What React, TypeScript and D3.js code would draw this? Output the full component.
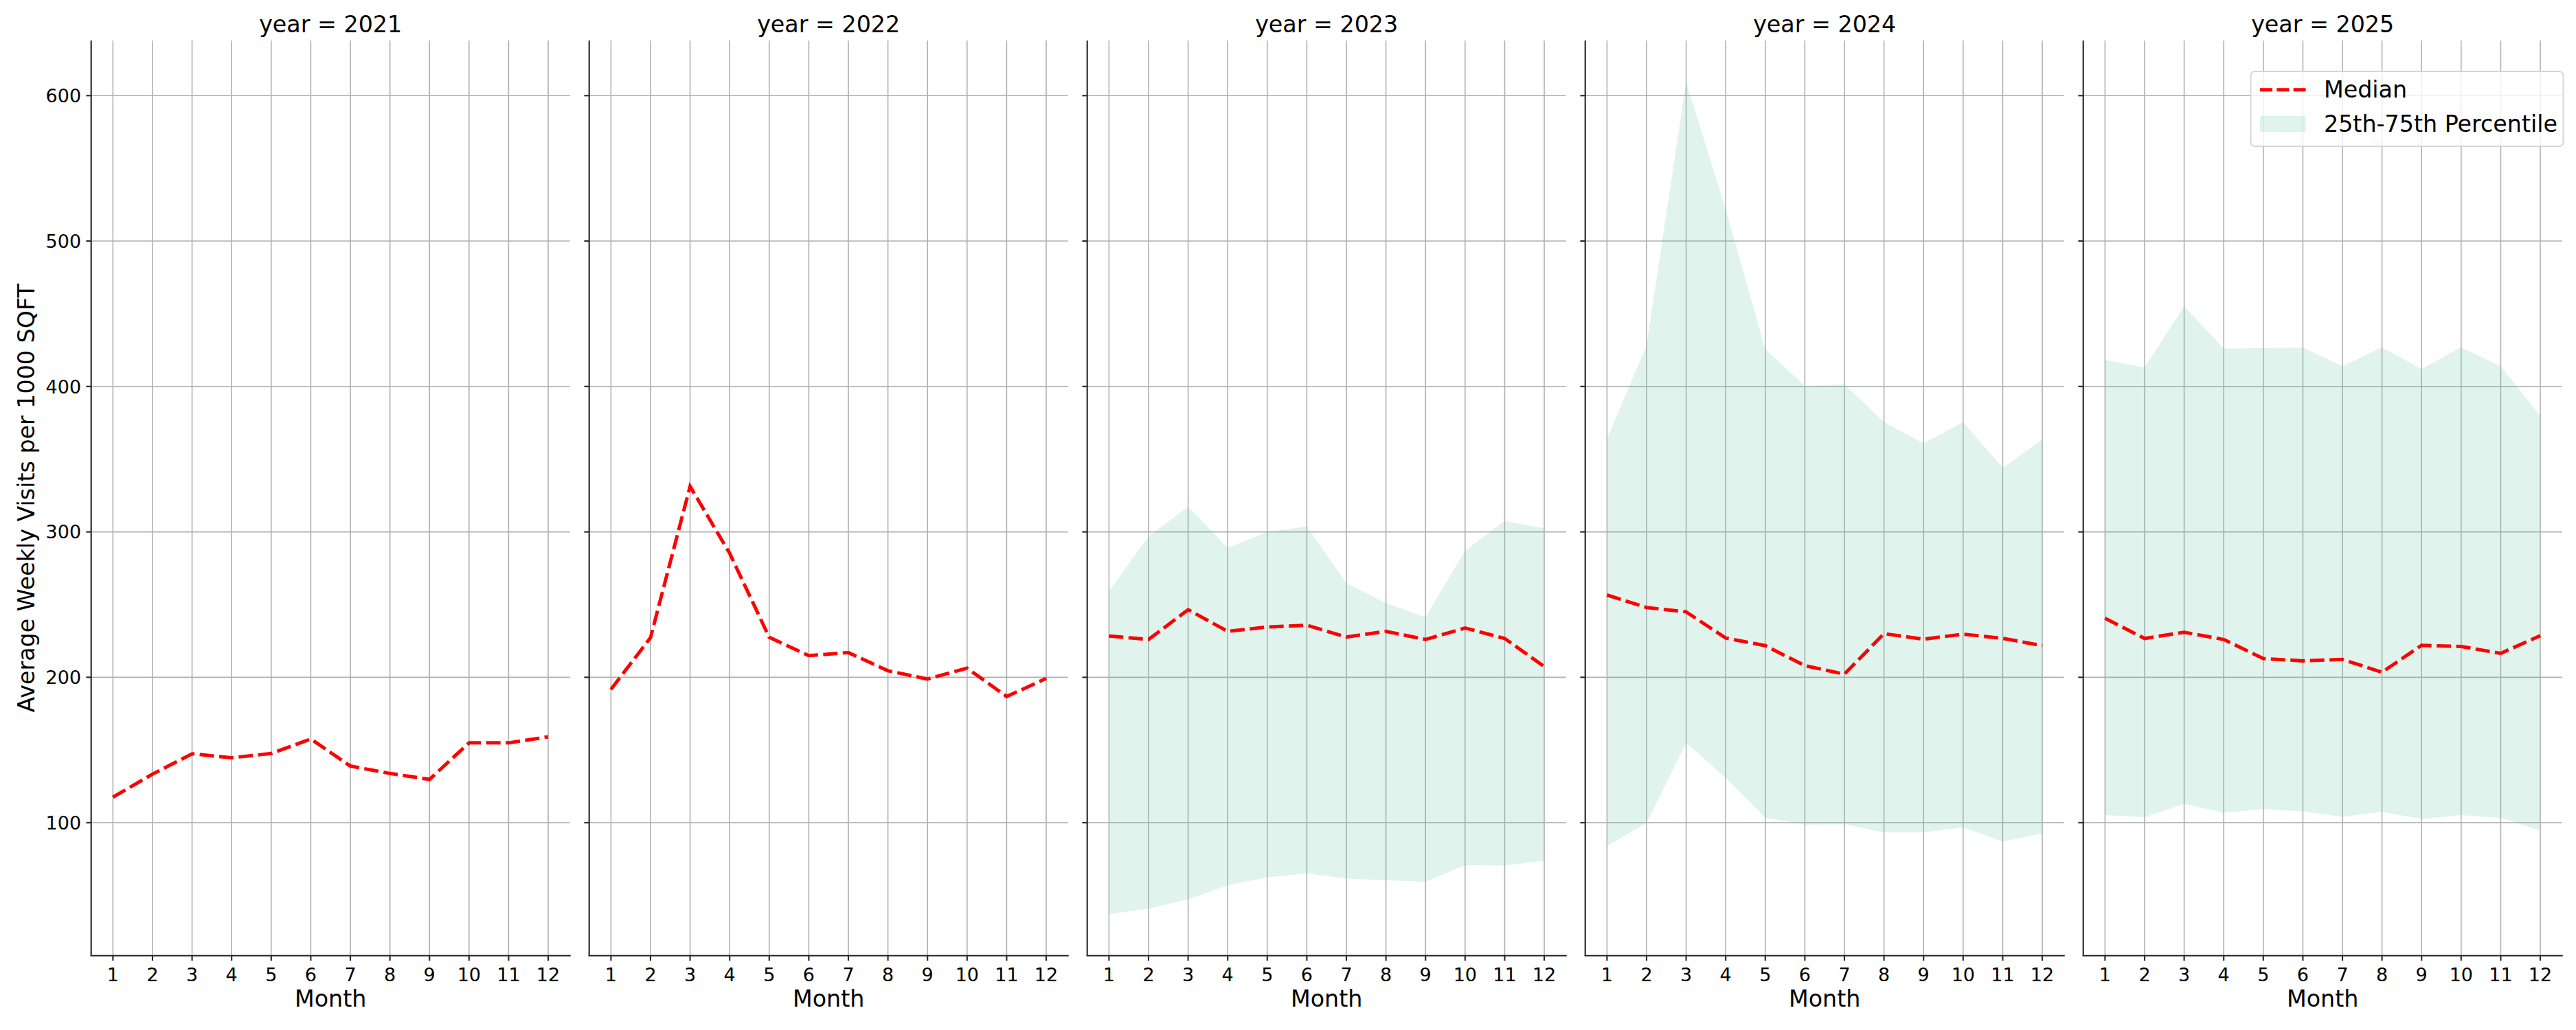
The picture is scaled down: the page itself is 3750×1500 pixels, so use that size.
import React from "react";
import * as d3 from "d3";

// Facet columns and x categories
const years = [2021, 2022, 2023, 2024, 2025];
const months = [1, 2, 3, 4, 5, 6, 7, 8, 9, 10, 11, 12];
const yTicks = [100, 200, 300, 400, 500, 600];

// Median weekly visits per 1000 sqft, one array per year
const median2021 = [117.6, 133.4, 147.4, 144.7, 147.6, 157.6, 139.0, 133.9, 129.8, 154.9, 154.9, 159.1];
const median2022 = [191.7, 227.3, 331.3, 285.3, 227.5, 214.9, 217.0, 204.5, 198.8, 206.3, 186.8, 199.2];
const median2023 = [228.4, 226.0, 246.5, 231.6, 234.6, 235.8, 227.7, 231.6, 226.0, 233.9, 226.7, 207.4];
const median2024 = [256.6, 248.0, 245.0, 227.0, 221.8, 208.0, 202.2, 230.0, 226.2, 229.7, 226.8, 221.8];
const median2025 = [240.6, 226.7, 231.0, 226.0, 212.9, 211.3, 212.3, 203.5, 222.0, 221.2, 216.5, 228.6];

// 25th / 75th percentile band (not available for 2021 and 2022)
const p25_2023 = [37.2, 40.9, 47.3, 57.0, 62.4, 65.1, 61.7, 60.4, 59.4, 70.8, 70.5, 74.0];
const p75_2023 = [259.2, 296.8, 317.3, 288.9, 300.0, 303.7, 264.6, 251.0, 241.4, 287.1, 307.4, 302.5];
const p25_2024 = [84.0, 100.0, 155.0, 130.9, 103.5, 98.6, 99.0, 93.3, 93.3, 96.7, 86.9, 92.8];
const p75_2024 = [363.9, 428.3, 609.3, 521.9, 425.5, 400.4, 401.5, 375.5, 360.8, 375.5, 343.9, 363.5];
const p25_2025 = [105.3, 103.8, 113.0, 106.9, 109.3, 107.7, 104.1, 107.5, 102.5, 105.3, 103.3, 94.7];
const p75_2025 = [418.2, 413.1, 455.2, 426.1, 426.4, 426.7, 414.0, 426.9, 412.0, 426.9, 413.8, 379.7];

const medians = [median2021, median2022, median2023, median2024, median2025];
const lows: (number[] | null)[] = [null, null, p25_2023, p25_2024, p25_2025];
const highs: (number[] | null)[] = [null, null, p75_2023, p75_2024, p75_2025];

const W = 3750;
const H = 1500;
const font = "'DejaVu Sans', sans-serif";
const ink = "#262626";
const gridColor = "#b0b0b0";

export default function App() {
  // layout of the facet grid
  const left0 = 132.7;
  const stride = 725;
  const pw = 697;
  const top = 59;
  const bottom = 1391.7;

  // shared y domain with matplotlib-style 5% margins
  const all = [...medians.flat(), ...(lows.filter(Boolean) as number[][]).flat(), ...(highs.filter(Boolean) as number[][]).flat()];
  const lo = d3.min(all)!;
  const hi = d3.max(all)!;
  const pad = (hi - lo) * 0.05;
  const y = d3.scaleLinear().domain([lo - pad, hi + pad]).range([bottom, top]);

  const tickLen = 7.3;
  const labelSize = 33.3;
  const tickSize = 27;
  const lineW = 5;
  const dash = "21,7.5";

  return (
    <svg
      width={W}
      height={H}
      style={{ position: "absolute", left: 0, top: 0, background: "#fff" }}
      fontFamily={font}
    >
      <rect width={W} height={H} fill="#fff" />
      {years.map((yr, i) => {
        const x0 = left0 + i * stride;
        const x = d3.scaleLinear().domain([0.45, 12.55]).range([x0, x0 + pw]);
        const med = medians[i];
        const low = lows[i];
        const high = highs[i];

        const line = d3.line<number>()
          .x((_, j) => x(months[j]))
          .y(d => y(d));
        const area = d3.area<number>()
          .x((_, j) => x(months[j]))
          .y0((_, j) => y(low ? low[j] : 0))
          .y1((_, j) => y(high ? high[j] : 0));

        return (
          <g key={yr}>
            {/* grid */}
            {months.map(m => (
              <line key={"gx" + m} x1={x(m)} x2={x(m)} y1={top} y2={bottom} stroke={gridColor} strokeWidth={1.6} />
            ))}
            {yTicks.map(t => (
              <line key={"gy" + t} x1={x0} x2={x0 + pw} y1={y(t)} y2={y(t)} stroke={gridColor} strokeWidth={1.6} />
            ))}

            {/* percentile band */}
            {low && high && (
              <path d={area(high) || ""} fill="#66c2a5" fillOpacity={0.2} />
            )}

            {/* median */}
            <path
              d={line(med) || ""}
              fill="none"
              stroke="#ff0000"
              strokeWidth={lineW}
              strokeDasharray={dash}
            />

            {/* spines */}
            <line x1={x0} x2={x0} y1={top} y2={bottom} stroke={ink} strokeWidth={2.1} />
            <line x1={x0} x2={x0 + pw} y1={bottom} y2={bottom} stroke={ink} strokeWidth={2.1} strokeLinecap="square" />

            {/* x ticks */}
            {months.map(m => (
              <g key={"xt" + m}>
                <line x1={x(m)} x2={x(m)} y1={bottom} y2={bottom + tickLen} stroke={ink} strokeWidth={2.1} />
                <text x={x(m)} y={1428.5} textAnchor="middle" fontSize={tickSize} fill="#000">
                  {m}
                </text>
              </g>
            ))}

            {/* y ticks (labels only on the first facet) */}
            {yTicks.map(t => (
              <g key={"yt" + t}>
                <line x1={x0 - tickLen} x2={x0} y1={y(t)} y2={y(t)} stroke={ink} strokeWidth={2.1} />
                {i === 0 && (
                  <text x={x0 - tickLen - 7.3} y={y(t)} dy="0.36em" textAnchor="end" fontSize={tickSize} fill="#000">
                    {t}
                  </text>
                )}
              </g>
            ))}

            <text x={x0 + pw / 2} y={46.5} textAnchor="middle" fontSize={labelSize} fill="#000">
              {`year = ${yr}`}
            </text>
            <text x={x0 + pw / 2} y={1466} textAnchor="middle" fontSize={labelSize} fill="#000">
              Month
            </text>
          </g>
        );
      })}

      <text
        transform={`translate(50,${(top + bottom) / 2}) rotate(-90)`}
        textAnchor="middle"
        fontSize={labelSize}
        fill="#000"
      >
        Average Weekly Visits per 1000 SQFT
      </text>

      {/* legend */}
      <g>
        <rect x={3276.5} y={104} width={455} height={109} rx={6} fill="#fff" fillOpacity={0.8} stroke="#cccccc" strokeOpacity={0.8} strokeWidth={2} />
        <line x1={3290} x2={3356.7} y1={130.7} y2={130.7} stroke="#ff0000" strokeWidth={lineW} strokeDasharray="18,6.3" />
        <text x={3383} y={141.7} fontSize={labelSize} fill="#000">Median</text>
        <rect x={3290} y={169} width={66.7} height={23.3} fill="#66c2a5" fillOpacity={0.2} />
        <text x={3383} y={191.7} fontSize={labelSize} fill="#000">25th-75th Percentile</text>
      </g>
    </svg>
  );
}
